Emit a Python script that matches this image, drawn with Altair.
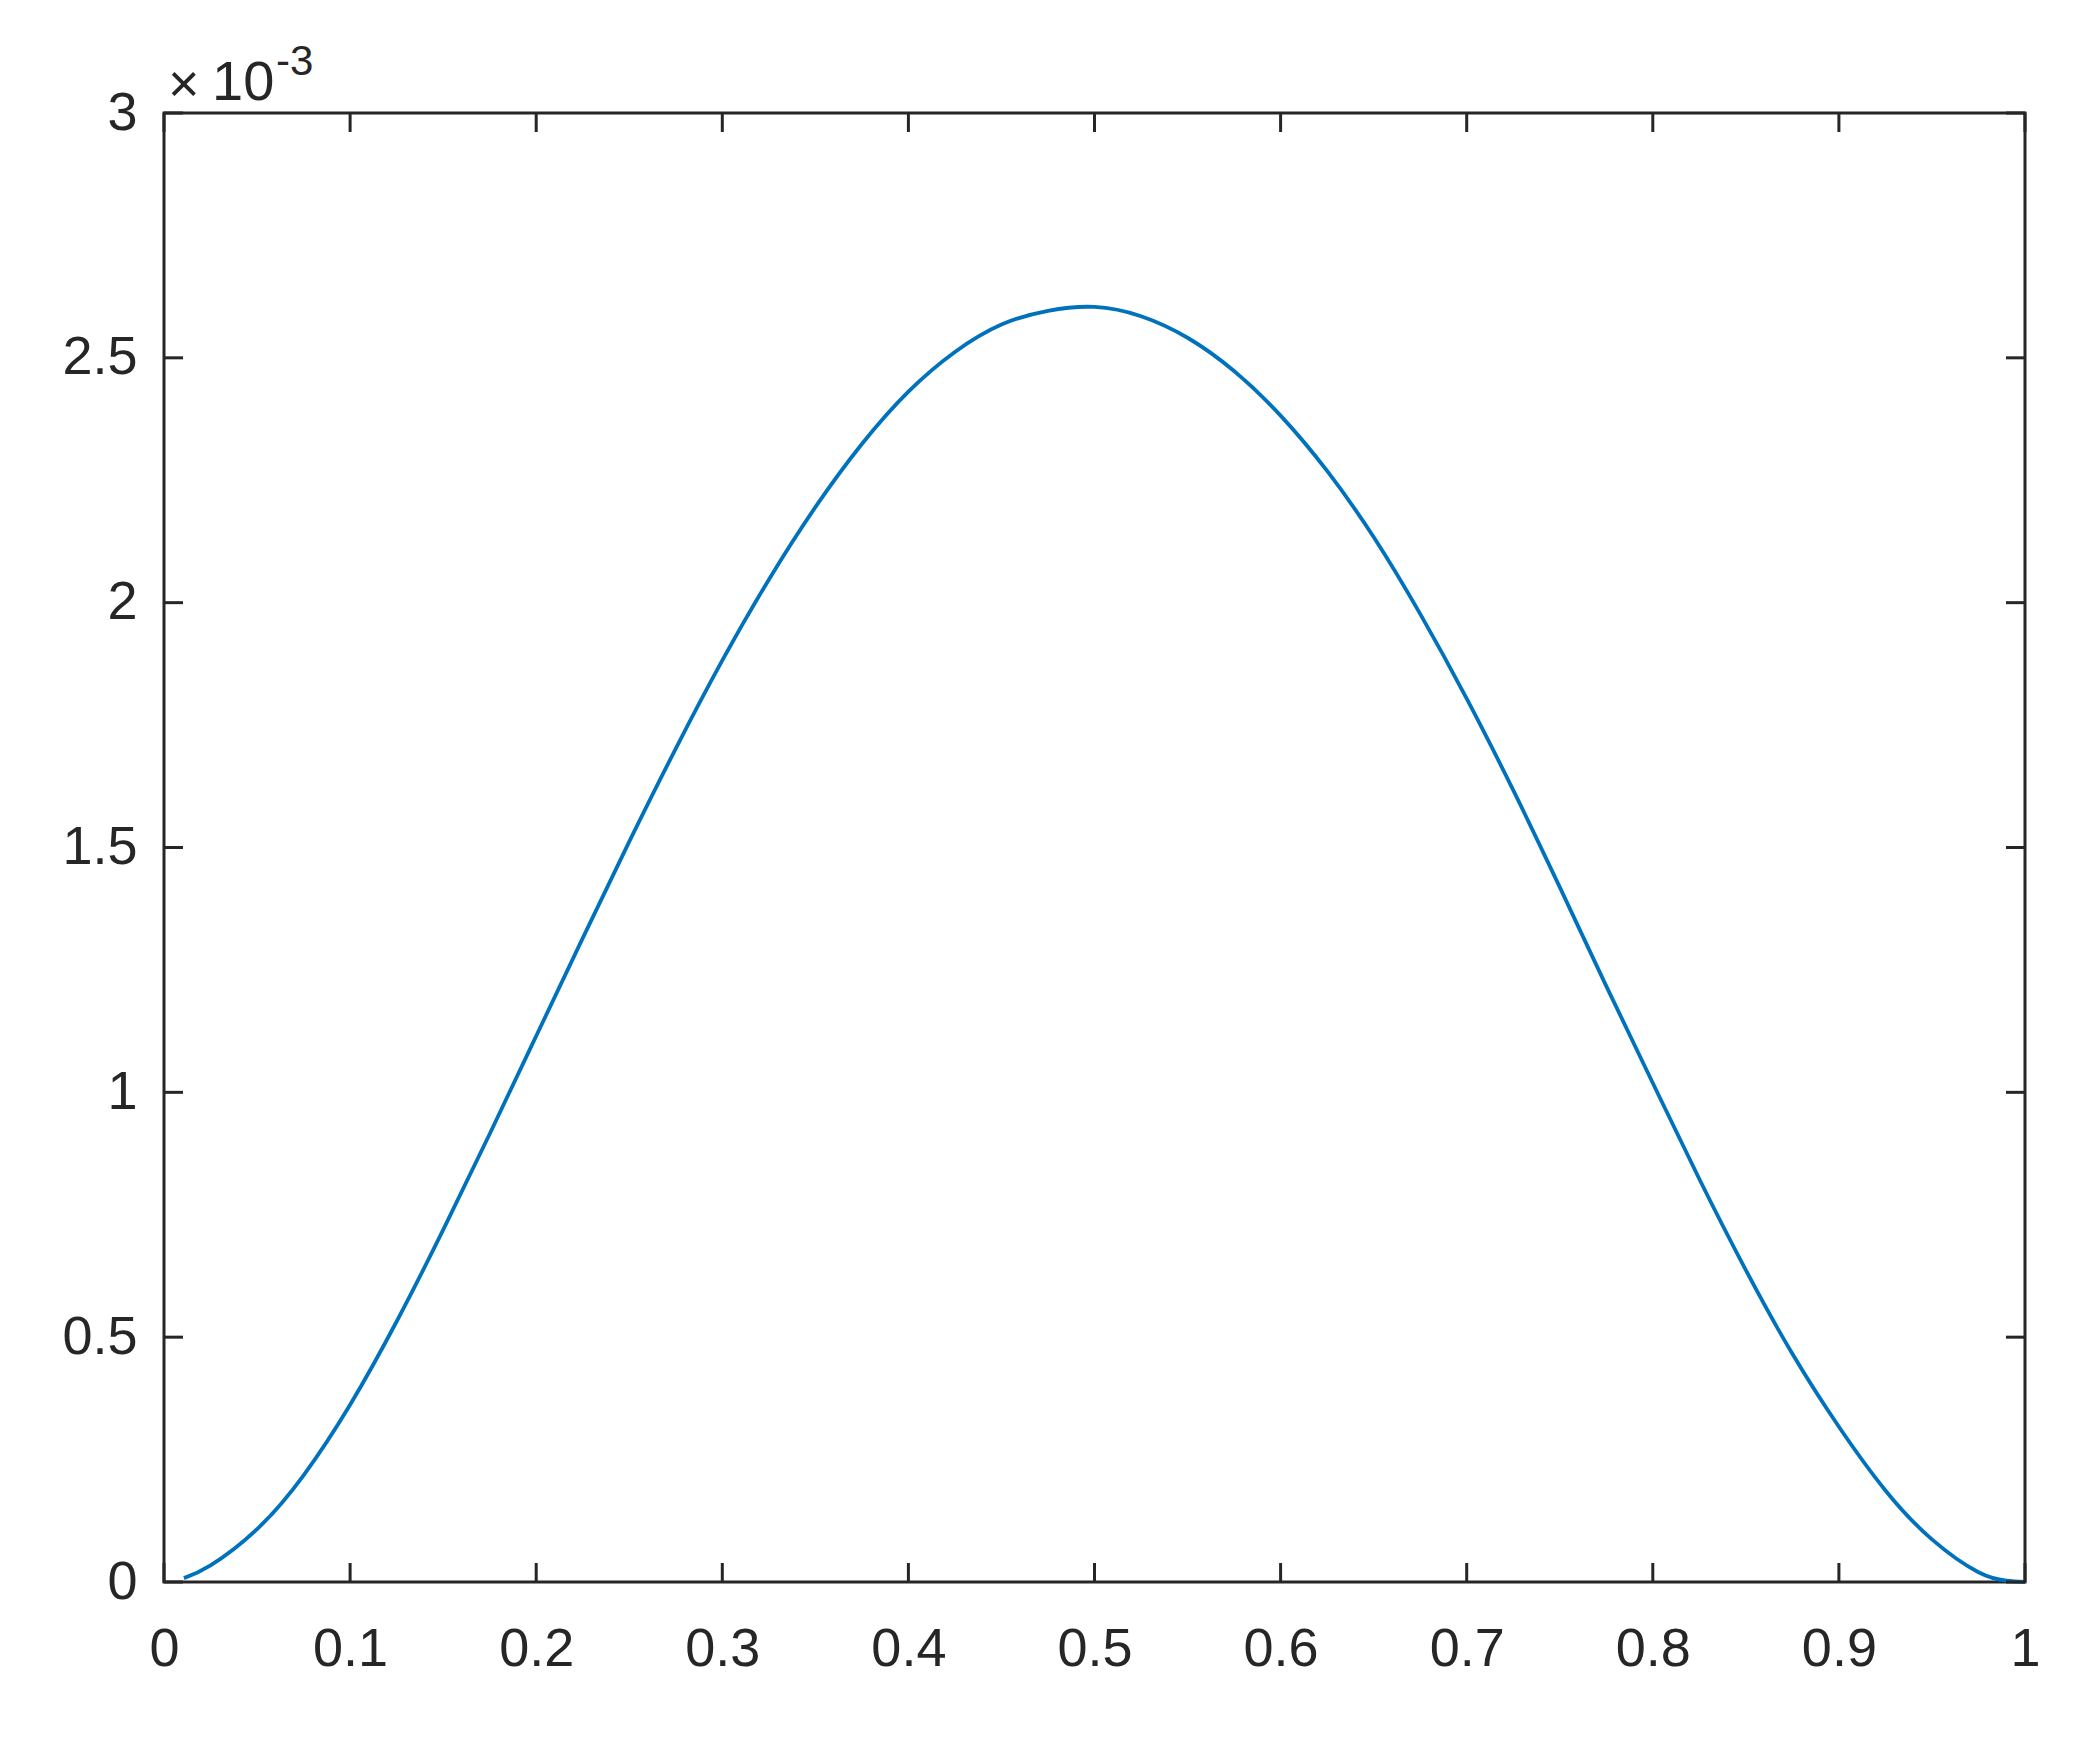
import altair as alt
import pandas as pd

# Curve values (y in units of 1e-3)
x_vals = [0.0107, 0.025, 0.05, 0.075, 0.1, 0.125, 0.15, 0.175, 0.2, 0.225,
          0.25, 0.275, 0.3, 0.325, 0.35, 0.375, 0.4, 0.425, 0.45, 0.475,
          0.5, 0.525, 0.55, 0.575, 0.6, 0.625, 0.65, 0.675, 0.7, 0.725,
          0.75, 0.775, 0.8, 0.825, 0.85, 0.875, 0.9, 0.925, 0.95, 0.975,
          0.99, 1.0]
y_vals = [0.008, 0.034, 0.108, 0.218, 0.362, 0.532, 0.719, 0.915, 1.115, 1.315,
          1.512, 1.702, 1.882, 2.047, 2.195, 2.324, 2.431, 2.512, 2.568, 2.596,
          2.604, 2.585, 2.541, 2.473, 2.382, 2.269, 2.134, 1.977, 1.804, 1.617,
          1.419, 1.217, 1.019, 0.823, 0.637, 0.466, 0.317, 0.187, 0.087, 0.020,
          0.003, 0.0]

x_ticks = [0, 0.1, 0.2, 0.3, 0.4, 0.5, 0.6, 0.7, 0.8, 0.9, 1]
y_ticks = [0, 0.5, 1, 1.5, 2, 2.5, 3]

W, H = 1861, 1469
TICK = 19
INK = "#262626"
FONT = "Liberation Sans"
FS = 54

df = pd.DataFrame({"x": x_vals, "y": y_vals})
xt = pd.DataFrame({"v": x_ticks})
yt = pd.DataFrame({"v": y_ticks})

xscale = alt.Scale(domain=[0, 1], nice=False, zero=False)
yscale = alt.Scale(domain=[0, 3], nice=False, zero=False)

xaxis = alt.Axis(values=x_ticks, format=".1~f", title=None, grid=False, domain=False,
                 ticks=False, tickSize=0, labelPadding=40, labelFont=FONT, labelFontSize=FS,
                 labelColor=INK, labelFlush=False, labelOverlap=False)
yaxis = alt.Axis(values=y_ticks, format=".1~f", title=None, grid=False, domain=False,
                 ticks=False, tickSize=0, labelPadding=27, labelFont=FONT, labelFontSize=FS,
                 labelColor=INK, labelFlush=False, labelOverlap=False)

line = alt.Chart(df).mark_line(color="#0072BD", strokeWidth=3.8, interpolate="natural").encode(
    x=alt.X("x:Q", scale=xscale, axis=xaxis),
    y=alt.Y("y:Q", scale=yscale, axis=yaxis),
)

xt_bottom = alt.Chart(xt).mark_rule(color=INK, strokeWidth=3).encode(
    x=alt.X("v:Q", scale=xscale, axis=xaxis), y=alt.value(H), y2=alt.value(H - TICK))
xt_top = alt.Chart(xt).mark_rule(color=INK, strokeWidth=3).encode(
    x=alt.X("v:Q", scale=xscale, axis=xaxis), y=alt.value(0), y2=alt.value(TICK))
yt_left = alt.Chart(yt).mark_rule(color=INK, strokeWidth=3).encode(
    y=alt.Y("v:Q", scale=yscale, axis=yaxis), x=alt.value(0), x2=alt.value(TICK))
yt_right = alt.Chart(yt).mark_rule(color=INK, strokeWidth=3).encode(
    y=alt.Y("v:Q", scale=yscale, axis=yaxis), x=alt.value(W), x2=alt.value(W - TICK))

one = alt.Data(values=[{}])
times = alt.Chart(one).mark_text(font=FONT, fontSize=FS, color=INK, align="left",
                                 baseline="alphabetic").encode(
    x=alt.value(4), y=alt.value(-11), text=alt.value("\u00d7"))
ten = alt.Chart(one).mark_text(font=FONT, fontSize=56, color=INK, align="left",
                               baseline="alphabetic").encode(
    x=alt.value(48), y=alt.value(-13), text=alt.value("10"))
expo = alt.Chart(one).mark_text(font=FONT, fontSize=42, color=INK, align="left",
                                baseline="alphabetic").encode(
    x=alt.value(112), y=alt.value(-38), text=alt.value("-3"))

chart = alt.layer(line, xt_bottom, xt_top, yt_left, yt_right, times, ten, expo).properties(
    width=W, height=H,
    autosize=alt.AutoSizeParams(type="none"),
    padding={"left": 156, "top": 105, "right": 50, "bottom": 140},
    background="white",
).configure_view(stroke=INK, strokeWidth=3)

chart.save("out.html", embed_options={"renderer": "svg", "actions": False})
